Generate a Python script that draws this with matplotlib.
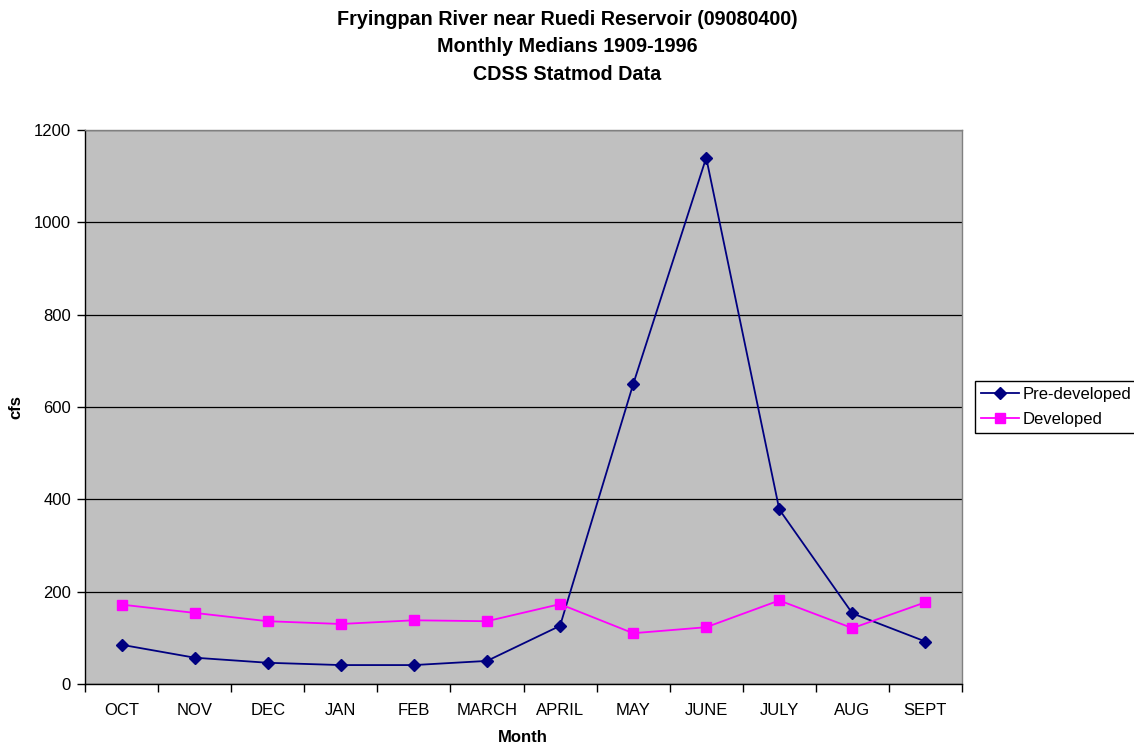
import matplotlib
matplotlib.use("Agg")
import matplotlib.pyplot as plt
from matplotlib.ticker import FixedLocator, MultipleLocator

plt.rcParams['font.family'] = ['Liberation Sans', 'DejaVu Sans']

months = ["OCT", "NOV", "DEC", "JAN", "FEB", "MARCH", "APRIL", "MAY", "JUNE", "JULY", "AUG", "SEPT"]
pre_developed = [85, 57, 46, 41, 41, 50, 126, 649, 1140, 378, 153, 92]
developed = [172, 154, 136, 130, 138, 136, 173, 110, 123, 181, 121, 177]

fig = plt.figure(figsize=(11.34, 7.46), dpi=100)
ax = fig.add_axes([85/1134, 1-684/746, (962-85)/1134, (684-130)/746])
ax.set_facecolor("#C0C0C0")

x = list(range(len(months)))
ax.plot(x, pre_developed, color="#000080", marker="D", markersize=6, linewidth=1.3,
        label="Pre-developed", zorder=3)
ax.plot(x, developed, color="#FF00FF", marker="s", markersize=7.5, linewidth=1.3,
        label="Developed", zorder=3)

ax.set_xlim(-0.5, len(months) - 0.5)
ax.set_ylim(0, 1200)
ax.yaxis.set_major_locator(MultipleLocator(200))
ax.set_xticks(x)
ax.set_xticklabels(months, fontsize=12)
ax.xaxis.set_minor_locator(FixedLocator([i - 0.5 for i in range(len(months) + 1)]))
ax.tick_params(axis='x', which='major', length=0, pad=14)
ax.tick_params(axis='x', which='minor', length=6, width=1, direction='out', color='black')
ax.tick_params(axis='y', length=6, width=1, direction='out', labelsize=12, pad=4)
ax.grid(axis='y', color='black', linewidth=0.9)
ax.set_axisbelow(True)

for s in ['left', 'bottom']:
    ax.spines[s].set_color('black')
    ax.spines[s].set_linewidth(1)
for s in ['top', 'right']:
    ax.spines[s].set_color('#808080')
    ax.spines[s].set_linewidth(1)

fig.text(523/1134, 1-737/746, "Month", ha='center', va='center', fontsize=12, fontweight='bold')
fig.text(16/1134, 1-407/746, "cfs", ha='center', va='center', rotation=90, fontsize=12, fontweight='bold')

fig.text(0.5, 1-47/746, "Fryingpan River near Ruedi Reservoir (09080400)\nMonthly Medians 1909-1996\nCDSS Statmod Data",
         ha='center', va='center', fontsize=14.2, fontweight='bold', linespacing=1.55)

leg = ax.legend(loc='center left', bbox_to_anchor=(975/1134, 1-407/746), bbox_transform=fig.transFigure,
                fontsize=12, frameon=True, fancybox=False, edgecolor='black', framealpha=1,
                borderpad=0.35, labelspacing=0.6, handlelength=2.3, handletextpad=0.2, borderaxespad=0)
leg.get_frame().set_linewidth(1)

fig.savefig("out.png", dpi=100)
